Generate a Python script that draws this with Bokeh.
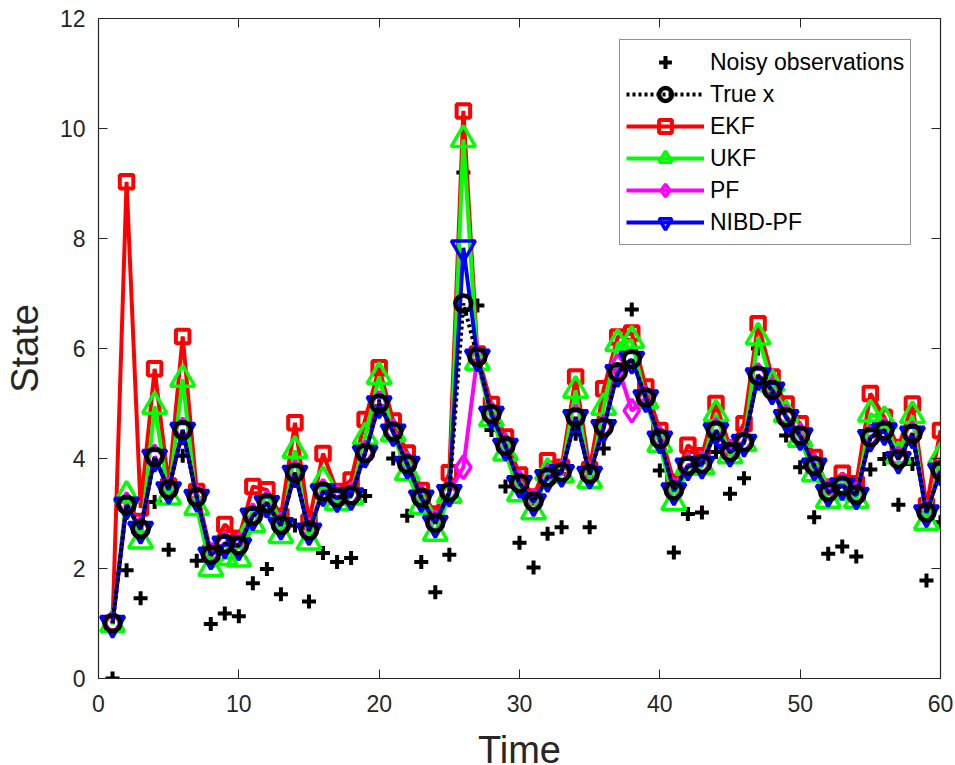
from bokeh.plotting import figure
from bokeh.models import Range1d, LinearAxis, Legend, LegendItem, FixedTicker
from bokeh.embed import file_html
from bokeh.resources import INLINE

t = list(range(1, 61))

noisy = [0.00, 1.97, 1.46, 3.21, 2.34, 4.05, 2.14, 0.99, 1.18, 1.13,
         1.73, 1.99, 1.53, 2.78, 1.40, 2.28, 2.12, 2.19, 3.32, 4.95,
         4.00, 2.96, 2.12, 1.57, 2.25, 9.20, 6.78, 4.52, 3.49, 2.47,
         2.02, 2.63, 2.75, 4.45, 2.75, 4.18, 5.60, 6.71, 5.00, 3.78,
         2.29, 2.99, 3.02, 4.12, 3.36, 3.64, 6.00, 5.20, 4.42, 3.84,
         2.93, 2.27, 2.40, 2.22, 3.80, 3.99, 3.16, 3.90, 1.78, 2.84]

true_x = [1.01, 3.16, 2.72, 4.03, 3.44, 4.52, 3.30, 2.25, 2.45, 2.42,
          2.96, 3.19, 2.79, 3.74, 2.69, 3.40, 3.29, 3.33, 4.10, 5.00,
          4.49, 3.90, 3.29, 2.83, 3.39, 6.82, 5.85, 4.81, 4.23, 3.55,
          3.22, 3.66, 3.75, 4.75, 3.72, 4.57, 5.57, 5.81, 5.11, 4.36,
          3.42, 3.87, 3.90, 4.51, 4.12, 4.30, 5.51, 5.25, 4.75, 4.42,
          3.87, 3.39, 3.51, 3.34, 4.39, 4.51, 3.99, 4.45, 3.02, 3.78]

ekf = [1.00, 9.03, 3.10, 5.63, 3.50, 6.22, 3.40, 2.30, 2.80, 2.55,
       3.49, 3.43, 2.95, 4.65, 2.85, 4.09, 3.40, 3.61, 4.71, 5.65,
       4.68, 4.10, 3.42, 2.99, 3.74, 10.32, 5.90, 4.98, 4.39, 3.70,
       3.30, 3.96, 3.84, 5.48, 3.80, 5.27, 6.21, 6.28, 5.30, 4.51,
       3.57, 4.24, 4.05, 5.00, 4.20, 4.63, 6.45, 5.48, 4.99, 4.63,
       4.02, 3.48, 3.73, 3.54, 5.18, 4.75, 4.20, 4.99, 3.14, 4.51]

ukf = [0.98, 3.33, 2.50, 4.95, 3.30, 5.44, 3.11, 2.00, 2.20, 2.17,
       2.80, 3.08, 2.60, 4.15, 2.48, 3.60, 3.20, 3.30, 4.39, 5.49,
       4.45, 3.74, 3.13, 2.64, 3.33, 9.80, 5.75, 4.72, 4.10, 3.36,
       3.03, 3.75, 3.70, 5.24, 3.60, 4.93, 6.09, 6.15, 5.05, 4.26,
       3.20, 3.84, 3.85, 4.81, 4.05, 4.27, 6.21, 5.36, 4.80, 4.35,
       3.72, 3.24, 3.39, 3.24, 4.81, 4.69, 4.05, 4.78, 2.84, 4.03]

pf = [1.01, 3.17, 2.73, 4.04, 3.45, 4.53, 3.31, 2.26, 2.46, 2.43,
      2.97, 3.20, 2.80, 3.75, 2.70, 3.41, 3.30, 3.34, 4.11, 5.01,
      4.50, 3.91, 3.30, 2.84, 3.40, 3.84, 5.85, 4.82, 4.24, 3.56,
      3.23, 3.67, 3.76, 4.76, 3.73, 4.58, 5.68, 4.87, 5.10, 4.37,
      3.43, 3.88, 3.91, 4.52, 4.13, 4.31, 5.52, 5.26, 4.76, 4.43,
      3.88, 3.40, 3.52, 3.35, 4.40, 4.52, 4.00, 4.46, 3.03, 3.79]

nibd = [1.00, 3.15, 2.71, 4.02, 3.43, 4.51, 3.29, 2.24, 2.44, 2.41,
        2.95, 3.18, 2.78, 3.73, 2.68, 3.39, 3.28, 3.32, 4.09, 4.99,
        4.48, 3.89, 3.28, 2.82, 3.38, 7.83, 5.84, 4.80, 4.22, 3.54,
        3.21, 3.65, 3.74, 4.74, 3.71, 4.56, 5.56, 5.80, 5.10, 4.35,
        3.41, 3.86, 3.89, 4.50, 4.11, 4.29, 5.50, 5.24, 4.74, 4.41,
        3.86, 3.38, 3.50, 3.33, 4.38, 4.50, 3.98, 4.44, 3.01, 3.77]

x_ticks = [0, 10, 20, 30, 40, 50, 60]
y_ticks = [0, 2, 4, 6, 8, 10, 12]

AX = "#262626"
FONT = "Liberation Sans"

p = figure(frame_width=842, frame_height=660, output_backend="svg", toolbar_location=None,
           x_range=Range1d(0, 60), y_range=Range1d(0, 12),
           min_border_left=95, min_border_right=18, min_border_top=18, min_border_bottom=87)
p.xgrid.visible = False
p.ygrid.visible = False
p.outline_line_color = AX
p.outline_line_width = 1.2

for ax in (p.xaxis[0], p.yaxis[0]):
    ax.major_tick_in = 9
    ax.major_tick_out = 0
    ax.minor_tick_line_color = None
    ax.axis_line_color = AX
    ax.major_tick_line_color = AX
    ax.major_label_text_font = FONT
    ax.major_label_text_font_size = "23px"
    ax.major_label_text_color = AX
    ax.axis_label_text_font = FONT
    ax.axis_label_text_font_size = "38px"
    ax.axis_label_text_font_style = "normal"
    ax.axis_label_text_color = AX
    ax.axis_label_text_line_height = 1.0

p.xaxis.ticker = FixedTicker(ticks=x_ticks)
p.yaxis.ticker = FixedTicker(ticks=y_ticks)
p.xaxis.axis_label = "Time"
p.yaxis.axis_label = "State"
p.xaxis.major_label_standoff = 16
p.yaxis.major_label_standoff = 13
p.xaxis.axis_label_standoff = 14
p.yaxis.axis_label_standoff = 11

# tick marks on the right and top edges (box style), no labels
right = LinearAxis(ticker=FixedTicker(ticks=y_ticks), major_tick_in=9, major_tick_out=0,
                   minor_tick_line_color=None, axis_line_color=AX, major_tick_line_color=AX,
                   major_label_text_color=None, major_label_standoff=0)
top = LinearAxis(ticker=FixedTicker(ticks=x_ticks), major_tick_in=9, major_tick_out=0,
                 minor_tick_line_color=None, axis_line_color=AX, major_tick_line_color=AX,
                 major_label_text_color=None, major_label_standoff=0)
p.add_layout(right, "right")
p.add_layout(top, "above")

r_obs = p.scatter(t, noisy, marker="cross", size=14, line_color="black", line_width=4)

ekf_l = p.line(t, ekf, line_color="#FF0000", line_width=4)
ekf_m = p.scatter(t, ekf, marker="square", size=13.5, line_color="#FF0000", line_width=4, fill_alpha=0)

ukf_l = p.line(t, ukf, line_color="#00FF00", line_width=4)
ukf_m = p.scatter(t, ukf, marker="triangle", size=24, line_color="#00FF00", line_width=3.5, fill_alpha=0)

pf_l = p.line(t, pf, line_color="#FF00FF", line_width=4)
pf_m = p.scatter(t, pf, marker="diamond", size=23, line_color="#FF00FF", line_width=3.5, fill_alpha=0)

nb_l = p.line(t, nibd, line_color="#0000FF", line_width=4)
nb_m = p.scatter(t, nibd, marker="inverted_triangle", size=24, line_color="#0000FF", line_width=3.5, fill_alpha=0)

tr_l = p.line(t, true_x, line_color="black", line_width=4, line_dash="3 3")
tr_m = p.scatter(t, true_x, marker="circle", size=16, line_color="black", line_width=4.5, fill_alpha=0)

items = [
    LegendItem(label="Noisy observations", renderers=[r_obs]),
    LegendItem(label="True x", renderers=[tr_l, tr_m]),
    LegendItem(label="EKF", renderers=[ekf_l, ekf_m]),
    LegendItem(label="UKF", renderers=[ukf_l, ukf_m]),
    LegendItem(label="PF", renderers=[pf_l, pf_m]),
    LegendItem(label="NIBD-PF", renderers=[nb_l, nb_m]),
]
legend = Legend(items=items, location=(521, 433), margin=0, padding=6, spacing=0,
                glyph_width=78, glyph_height=32, label_height=32, label_standoff=6,
                label_text_font=FONT, label_text_font_size="23px", label_text_color="black",
                border_line_color=AX, border_line_width=1, background_fill_color="white",
                background_fill_alpha=1)
p.add_layout(legend)

open("out.html", "w").write(file_html(p, INLINE))
